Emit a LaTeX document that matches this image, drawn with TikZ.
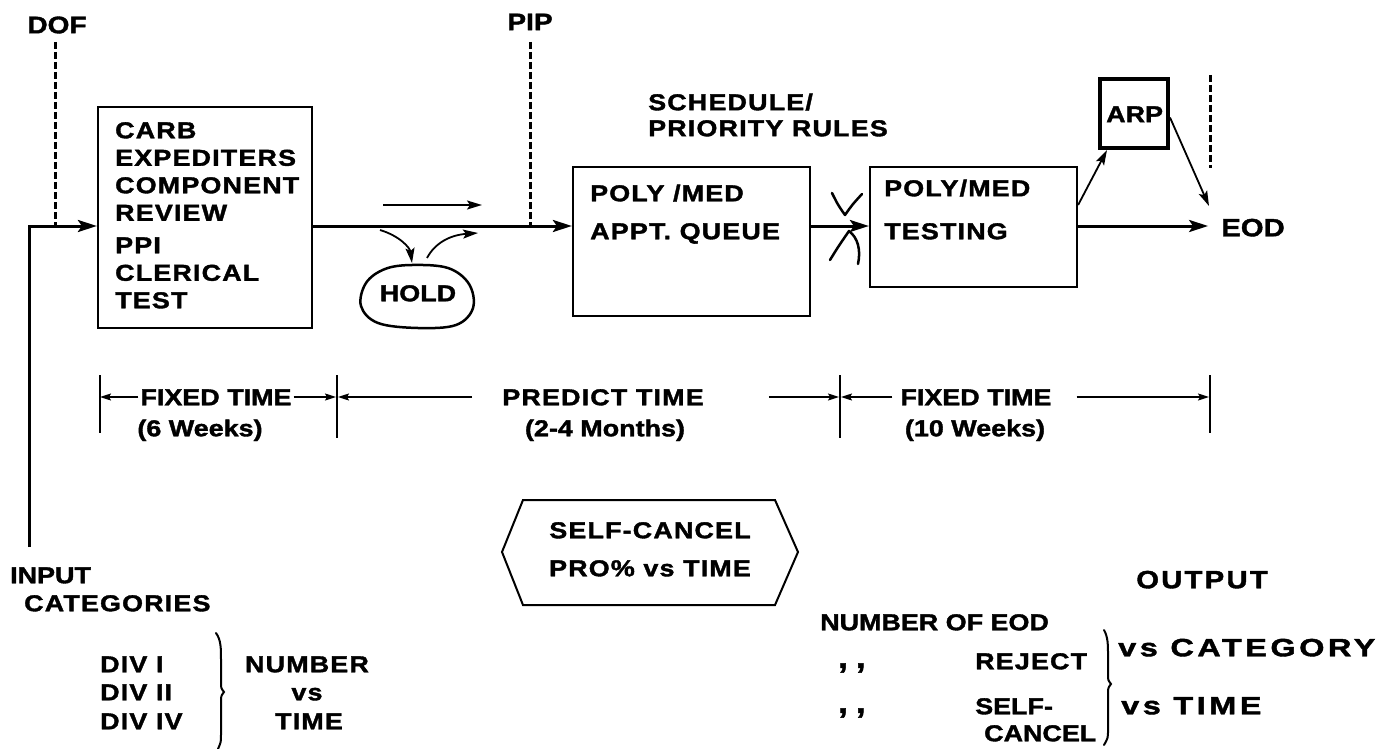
\documentclass[tikz,border=0pt]{standalone}
\usepackage{fontspec}
\setmainfont{Liberation Sans}
\newfontfamily\lab[FakeStretch=1.17,BoldFeatures={FakeBold=1.6}]{Liberation Sans}
\newfontfamily\labw[FakeStretch=1.17,LetterSpace=5,BoldFeatures={FakeBold=1.6}]{Liberation Sans}
\newfontfamily\labx[FakeStretch=1.17,LetterSpace=9,BoldFeatures={FakeBold=1.6}]{Liberation Sans}
\newfontfamily\labv[FakeStretch=1.3,LetterSpace=14,BoldFeatures={FakeBold=1.6}]{Liberation Sans}
\usetikzlibrary{arrows.meta,shapes.geometric}
\begin{document}
\begin{tikzpicture}[x=1pt,y=-1pt,
  txt/.style={font=\lab\bfseries\fontsize{23}{27.5}\selectfont, inner sep=0pt},
  wtxt/.style={font=\labw\bfseries\fontsize{23}{27.5}\selectfont, inner sep=0pt},
  btxt/.style={font=\labx\bfseries\fontsize{25}{30}\selectfont, inner sep=0pt},
  vtxt/.style={font=\labv\bfseries\fontsize{25}{30}\selectfont, inner sep=0pt},
  one/.style={text height=16.5pt, text depth=0pt},
  box/.style={draw, line width=2.2pt, inner sep=0pt},
  flow/.style={line width=3pt, -{Stealth[length=19pt,width=12pt,inset=4pt]}},
  thinar/.style={line width=1.8pt, -{Stealth[length=15pt,width=9pt,inset=3pt]}},
  dsh/.style={line width=3pt, dash pattern=on 7pt off 3pt},
  tickln/.style={line width=1.5pt},
  meas/.style={line width=1.5pt, -{Stealth[length=11pt,width=7pt,inset=2pt]}},
]
\useasboundingbox (0,0) rectangle (1398,749);

% top labels
\node[txt,one,font=\lab\bfseries\fontsize{24}{28}\selectfont] (dof) at (57,25) {DOF};
\node[txt,one,font=\lab\bfseries\fontsize{24}{28}\selectfont] (pip) at (530,22) {PIP};
\node[wtxt,one,anchor=west] (sch1) at (648,102) {SCHEDULE/};
\node[wtxt,one,anchor=west] (sch2) at (648,128) {PRIORITY RULES};

% boxes
\node[box, minimum width=214pt, minimum height=221pt] (b1) at (205,217.5) {};
\node[wtxt, anchor=north west, align=left] (b1t) at (115,122)
  {CARB\\EXPEDITERS\\COMPONENT\\REVIEW\\[5pt]PPI\\CLERICAL\\TEST};
\node[box, minimum width=237pt, minimum height=149pt] (b2) at (691.5,241.5) {};
\node[wtxt,one,anchor=west] (b2a) at (590,193) {POLY /MED};
\node[wtxt,one,anchor=west] (b2b) at (590,231) {APPT. QUEUE};
\node[box, minimum width=207pt, minimum height=120pt] (b3) at (973.5,227) {};
\node[wtxt,one,anchor=west] (b3a) at (884,188) {POLY/MED};
\node[wtxt,one,anchor=west] (b3b) at (884,231) {TESTING};
\node[draw, line width=4pt, minimum width=68pt, minimum height=69pt, inner sep=0pt] (arp) at (1134,113.5) {};
\node[txt,one,anchor=west] (arpt) at (1106,114) {ARP};
\node[txt,one,font=\lab\bfseries\fontsize{25}{30}\selectfont] (eod) at (1253,228) {EOD};

% coordinates
\coordinate (in0) at (29,547);
\coordinate (in1) at (29,226);
\coordinate (doftop) at (55,42);
\coordinate (piptop) at (530,42);
\coordinate (sa0) at (383,205);
\coordinate (sa1) at (482,205);
\coordinate (eodin) at (1209,206);
\coordinate (dtop) at (1210,75);
\coordinate (dbot) at (1210,168);

% flow
\draw[dsh] (doftop) -- (doftop |- in1);
\draw[dsh] (piptop) -- (piptop |- in1);
\draw[flow] (in0) -- (in1) -- (in1 -| b1.west);
\draw[flow] (in1 -| b1.east) -- (in1 -| b2.west);
\draw[flow] (in1 -| b2.east) -- (in1 -| b3.west);
\draw[flow] (in1 -| b3.east) -- ([xshift=-13pt]eod.west |- in1);
\draw[thinar] (sa0) -- (sa1);
\draw[thinar] ([yshift=22pt]b3.east) -- ([xshift=9pt]arp.south west);
\draw[thinar] ([yshift=-4pt]arp.east) -- (eodin);
\draw[dsh] (dtop) -- (dbot);

% cross marks
\draw[line width=2.5pt, line cap=round, line join=round]
  (832,193) .. controls (838,205) .. (845,215) .. controls (852,205) .. (862,194);
\draw[line width=2.5pt, line cap=round, line join=round]
  (830,260) .. controls (838,247) .. (849,231) .. controls (858,238) and (861,250) .. (858,264);

% hold
\draw[line width=2.5pt] plot[smooth cycle, tension=0.6] coordinates
  {(412,265) (448,268) (469,284) (473,308) (456,325) (418,328) (378,323) (361,306) (366,283) (385,269)};
\node[txt,one] (hold) at (418,293) {HOLD};
\draw[thinar] (380,230) .. controls (400,236) and (410,248) .. (412,263);
\draw[thinar] (427,258) .. controls (435,243) and (450,235) .. (478,233);

% time scale
\coordinate (t1) at (100,397);
\coordinate (t2) at (337,397);
\coordinate (t3) at (840,397);
\coordinate (t4) at (1210,397);
\draw[tickln] (100,375) -- (100,433);
\draw[tickln] (337,375) -- (337,438);
\draw[tickln] (840,375) -- (840,438);
\draw[tickln] (1210,375) -- (1210,433);
\node[txt,one] (f1) at (216,397) {FIXED TIME};
\node[wtxt,one] (pt) at (603,397) {PREDICT TIME};
\node[txt,one] (f2) at (976,397) {FIXED TIME};
\draw[meas] ([xshift=-2pt]f1.west) -- (t1);
\draw[meas] ([xshift=2pt]f1.east) -- ([xshift=-1pt]t2);
\draw[meas] ([xshift=-30pt]pt.west) -- ([xshift=1pt]t2);
\draw[meas] ([xshift=65pt]pt.east) -- ([xshift=-1pt]t3);
\draw[meas] ([xshift=-8pt]f2.west) -- ([xshift=1pt]t3);
\draw[meas] ([xshift=25pt]f2.east) -- ([xshift=-1pt]t4);
\node[txt,one] (w1) at (200,428) {(6 Weeks)};
\node[txt,one] (w2) at (605,428) {(2-4 Months)};
\node[txt,one] (w3) at (975,428) {(10 Weeks)};

% hexagon
\draw[line width=2pt] (502,552) -- (523,500) -- (775,500) -- (798,552) -- (775,605) -- (523,605) -- cycle;
\node[wtxt,one] (sc1) at (650,530) {SELF-CANCEL};
\node[wtxt,one] (sc2) at (650,568) {PRO\% vs TIME};

% input
\node[txt,one,anchor=west] (inp) at (10,575) {INPUT};
\node[wtxt,one,anchor=west] (cat) at (24,603) {CATEGORIES};
\node[wtxt,one,anchor=west] (d1) at (100,664) {DIV I};
\node[wtxt,one,anchor=west] (d2) at (100,692) {DIV II};
\node[wtxt,one,anchor=west] (d3) at (100,721) {DIV IV};
\draw[line width=2pt, line cap=round]
  (216,633) .. controls (221,640) and (221,648) .. (221,660) -- (221,683)
  .. controls (221,688) .. (224,692) .. controls (221,696) .. (221,702) -- (221,735)
  .. controls (221,742) .. (218,749);
\node[wtxt,one] (n1) at (307,664) {NUMBER};
\node[wtxt,one] (n2) at (307,692) {vs};
\node[wtxt,one] (n3) at (309,721) {TIME};

% output
\node[btxt,one] (outp) at (1202,580) {OUTPUT};
\node[txt,one,anchor=west] (noe) at (820,622) {NUMBER OF EOD};
\node[txt,anchor=west,font=\lab\bfseries\fontsize{30}{30}\selectfont] (di1) at (838,668) {,\hspace{8pt},};
\node[txt,anchor=west,font=\lab\bfseries\fontsize{30}{30}\selectfont] (di2) at (838,713) {,\hspace{8pt},};
\node[wtxt,one,anchor=west] (rej) at (975,661) {REJECT};
\node[txt,one,anchor=west] (sf1) at (975,706) {SELF-};
\node[txt,one,anchor=west] (sf2) at (984,733) {CANCEL};
\draw[line width=2pt, line cap=round]
  (1104,630) .. controls (1108,637) and (1108,645) .. (1108,655) -- (1108,675)
  .. controls (1108,680) .. (1111,684) .. controls (1108,688) .. (1108,694) -- (1108,730)
  .. controls (1108,738) .. (1104,745);
\node[vtxt,one,anchor=west] (vc) at (1118,648) {vs CATEGORY};
\node[vtxt,one,anchor=west] (vt) at (1121,706) {vs TIME};
\end{tikzpicture}
\end{document}
